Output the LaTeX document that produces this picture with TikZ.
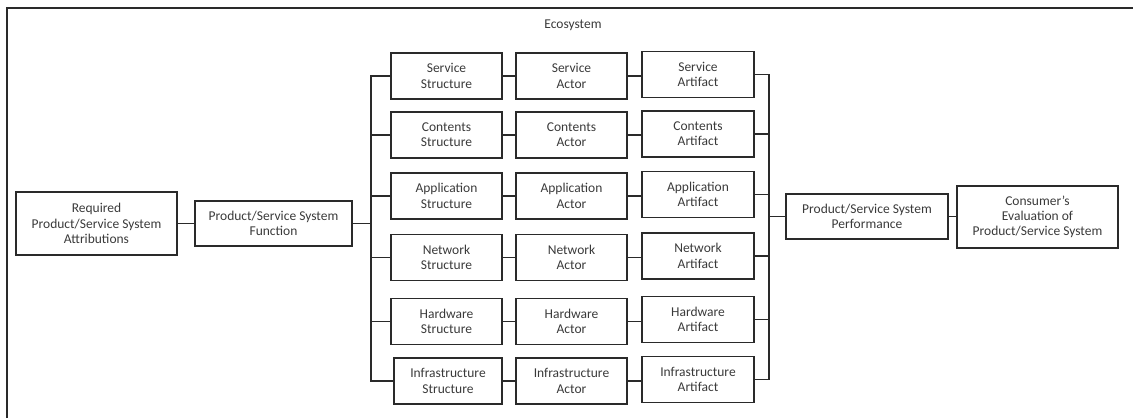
\documentclass[tikz,border=0pt]{standalone}
\usepackage{fontspec}
\setmainfont{Carlito}
\definecolor{txt}{HTML}{3A3A3A}
\definecolor{ln}{HTML}{2A2A2A}
\begin{document}
\begin{tikzpicture}[x=1pt,y=-1pt,
  box/.style={draw=ln,line width=1.3pt,inner sep=0pt,align=center,text=txt,
    font=\fontsize{13.5}{15.3}\selectfont,minimum height=46pt},
  conn/.style={draw=ln,line width=1.3pt}]
\useasboundingbox (0,0) rectangle (1133,418);
% outer frame (cut off at right and bottom)
\draw[ln,line width=1.3pt] (7,418) -- (7,8) -- (1140,8);
\node[text=txt,font=\fontsize{13.5}{15.3}\selectfont] (eco) at (573,25) {Ecosystem};

\node[box,minimum width=161pt,minimum height=63pt] (req) at (96.5,223.5) {Required\\Product/Service System\\Attributions};
\node[box,minimum width=157pt,minimum height=45pt] (func) at (273.5,223.5) {Product/Service System\\Function};

% structure column
\node[box,minimum width=111pt] (s1) at (446.5,76) {Service\\Structure};
\node[box,minimum width=111pt] (s2) at (446.5,135) {Contents\\Structure};
\node[box,minimum width=111pt] (s3) at (446.5,196) {Application\\Structure};
\node[box,minimum width=111pt] (s4) at (446.5,257.5) {Network\\Structure};
\node[box,minimum width=111pt] (s5) at (446.5,321.5) {Hardware\\Structure};
\node[box,minimum width=108pt] (s6) at (448,381) {Infrastructure\\Structure};
% actor column
\node[box,minimum width=111pt] (a1) at (571.5,76) {Service\\Actor};
\node[box,minimum width=111pt] (a2) at (571.5,135) {Contents\\Actor};
\node[box,minimum width=111pt] (a3) at (571.5,196) {Application\\Actor};
\node[box,minimum width=111pt] (a4) at (571.5,257.5) {Network\\Actor};
\node[box,minimum width=111pt] (a5) at (571.5,321.5) {Hardware\\Actor};
\node[box,minimum width=111pt] (a6) at (571.5,381) {Infrastructure\\Actor};
% artifact column
\node[box,minimum width=112pt] (f1) at (698,74.5) {Service\\Artifact};
\node[box,minimum width=112pt] (f2) at (698,134) {Contents\\Artifact};
\node[box,minimum width=112pt] (f3) at (698,194.5) {Application\\Artifact};
\node[box,minimum width=112pt] (f4) at (698,256) {Network\\Artifact};
\node[box,minimum width=112pt] (f5) at (698,319.5) {Hardware\\Artifact};
\node[box,minimum width=112pt] (f6) at (698,379.5) {Infrastructure\\Artifact};

\node[box,minimum width=162pt,minimum height=45pt] (perf) at (867,216.5) {Product/Service System\\Performance};
\node[box,minimum width=161pt,minimum height=62pt] (cons) at (1037.5,217) {Consumer’s\\Evaluation of\\Product/Service System};

\coordinate (lb) at (371,0);
\coordinate (rb) at (769,0);

\draw[conn] (req.east) -- (func.east -| func.west);
\draw[conn] (func.east) -- (func.east -| lb);
\draw[conn] (s1.west) -- (s1.west -| lb) -- (s6.west -| lb) -- (s6.west);
\foreach \i in {2,3,4,5}{\draw[conn] (s\i.west) -- (s\i.west -| lb);}
\foreach \i in {1,...,6}{
  \draw[conn] (s\i.east) -- (s\i.east -| a\i.west);
  \draw[conn] (a\i.east) -- (a\i.east -| f\i.west);
}
\draw[conn] (f1.east) -- (f1.east -| rb) -- (f6.east -| rb) -- (f6.east);
\foreach \i in {2,3,4,5}{\draw[conn] (f\i.east) -- (f\i.east -| rb);}
\draw[conn] (perf.west) -- (perf.west -| rb);
\draw[conn] (perf.east) -- (perf.east -| cons.west);
\end{tikzpicture}
\end{document}
